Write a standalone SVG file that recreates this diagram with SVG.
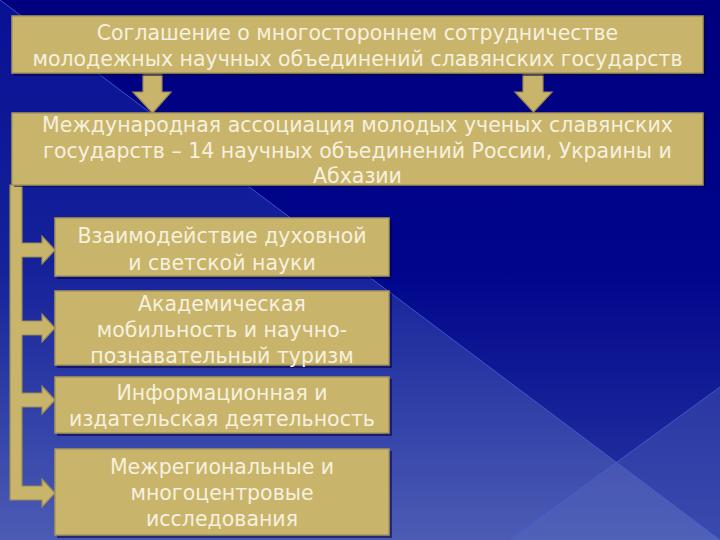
<svg xmlns="http://www.w3.org/2000/svg" width="720" height="540" viewBox="0 0 720 540">
  <defs>
    <linearGradient id="bgTop" x1="0" y1="0" x2="0" y2="1">
      <stop offset="0" stop-color="#00007e"/>
      <stop offset="0.5" stop-color="#00058c"/>
      <stop offset="1" stop-color="#2a3aa2"/>
    </linearGradient>
    <linearGradient id="bgLow" gradientUnits="userSpaceOnUse" x1="0" y1="0" x2="0" y2="540">
      <stop offset="0" stop-color="#081094"/>
      <stop offset="0.5" stop-color="#15229a"/>
      <stop offset="1" stop-color="#4c5cb4"/>
    </linearGradient>
    <style>
      .box { fill: #c9b46b; stroke: #a89658; stroke-width: 1.5; }
      .shadow { fill: #000046; opacity: 0.55; }
      .conn { fill: #c9b46b; stroke: #9c8a50; stroke-width: 1.2; stroke-linejoin: miter; }
      .t { font-family: "DejaVu Sans", "Liberation Sans", sans-serif; font-size: 20.5px; fill: #f6f1de; text-anchor: middle; }
      .bgline { stroke: #4a62d8; stroke-width: 1; opacity: 0.8; }
    </style>
  </defs>

  <!-- background -->
  <rect x="0" y="0" width="720" height="540" fill="url(#bgTop)"/>
  <polygon points="0,0 720,540 0,540" fill="url(#bgLow)"/>
  <polygon points="720,387 510,540 720,540" fill="#5a6ac0" opacity="0.35"/>
  <line class="bgline" x1="0" y1="0" x2="720" y2="540"/>
  <line class="bgline" x1="720" y1="387" x2="510" y2="540"/>

  <!-- connectors -->
  <g id="connectors">
    <polygon class="conn" points="143,74 162,74 162,92 171,92 152.5,113 133,92 143,92"/>
    <polygon class="conn" points="523,74 543,74 543,92 552,92 533.5,112 515,92 523,92"/>
    <polygon class="conn" points="10,185 22,185 22,243 42,243 42,236 55,250 42,264 42,257 22,257 22,321 42,321 42,314 55,328 42,342 42,335 22,335 22,393 42,393 42,386 55,400 42,414 42,407 22,407 22,486 42,486 42,479 55,493 42,507 42,500 10,500"/>
  </g>

  <!-- node 1 -->
  <g id="agreement">
    <rect class="shadow" x="14" y="18" width="692" height="58"/>
    <rect class="box" x="12" y="16" width="691" height="57"/>
    <text class="t" x="357.5" y="40">Соглашение о многостороннем сотрудничестве</text>
    <text class="t" x="357.5" y="66">молодежных научных объединений славянских государств</text>
  </g>

  <!-- node 2 -->
  <g id="association">
    <rect class="shadow" x="14" y="115" width="692" height="72"/>
    <rect class="box" x="12" y="113" width="691" height="72"/>
    <text class="t" x="357.5" y="132">Международная ассоциация молодых ученых славянских</text>
    <text class="t" x="357.5" y="158">государств – 14 научных объединений России, Украины и</text>
    <text class="t" x="357.5" y="183">Абхазии</text>
  </g>

  <!-- node A -->
  <g id="interaction">
    <rect class="shadow" x="57" y="220" width="335" height="59"/>
    <rect class="box" x="55" y="218" width="334" height="58"/>
    <text class="t" x="222" y="243">Взаимодействие духовной</text>
    <text class="t" x="222" y="270">и светской науки</text>
  </g>

  <!-- node B -->
  <g id="mobility">
    <rect class="shadow" x="57" y="293" width="335" height="75"/>
    <rect class="box" x="55" y="291" width="334" height="74"/>
    <text class="t" x="222" y="311">Академическая</text>
    <text class="t" x="222" y="337">мобильность и научно-</text>
    <text class="t" x="222" y="363">познавательный туризм</text>
  </g>

  <!-- node C -->
  <g id="publishing">
    <rect class="shadow" x="57" y="379" width="335" height="57"/>
    <rect class="box" x="55" y="377" width="334" height="56"/>
    <text class="t" x="222" y="400">Информационная и</text>
    <text class="t" x="222" y="426">издательская деятельность</text>
  </g>

  <!-- node D -->
  <g id="research">
    <rect class="shadow" x="57" y="451" width="335" height="87"/>
    <rect class="box" x="55" y="449" width="334" height="86"/>
    <text class="t" x="222" y="474">Межрегиональные и</text>
    <text class="t" x="222" y="500">многоцентровые</text>
    <text class="t" x="222" y="526">исследования</text>
  </g>
</svg>
